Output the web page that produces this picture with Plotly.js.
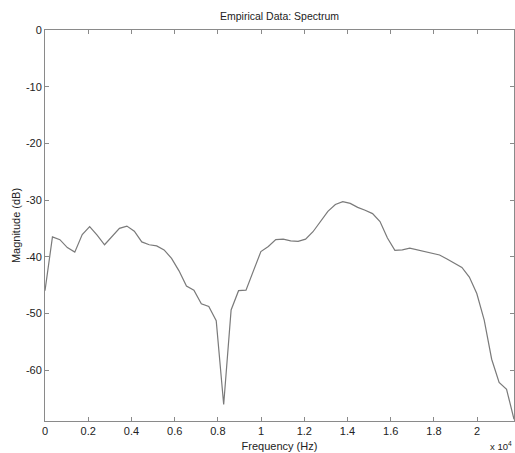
<!DOCTYPE html>
<html>
<head>
<meta charset="utf-8">
<script src="https://cdn.plot.ly/plotly-3.0.1.min.js"></script>
<style>html,body{margin:0;padding:0;background:#fff;}#chart{width:515px;height:453px;}</style>
</head>
<body>
<div id="chart"></div>
<script>
const freqHz = [0,345,689,1034,1378,1723,2067,2412,2756,3101,3445,3790,4134,4479,4823,5168,
  5512,5857,6202,6546,6891,7235,7580,7924,8269,8613,8958,9302,9647,9991,10336,10680,
  11025,11370,11714,12059,12403,12748,13092,13437,13781,14126,14470,14815,15159,15504,15848,16193,
  16537,16882,17227,17571,17916,18260,18605,18949,19294,19638,19983,20327,20672,21016,21361,21705];
const magnitudeDb = [-46.0,-36.5,-37.0,-38.4,-39.2,-36.1,-34.7,-36.2,-37.9,-36.5,-35.0,-34.6,-35.5,-37.4,-37.9,-38.1,
  -38.8,-40.3,-42.5,-45.2,-45.9,-48.3,-48.8,-51.3,-66.1,-49.4,-46.0,-45.9,-42.5,-39.1,-38.2,-37.0,
  -36.9,-37.2,-37.3,-36.9,-35.6,-33.8,-32.0,-30.8,-30.3,-30.6,-31.3,-31.8,-32.4,-33.8,-36.7,-38.9,
  -38.8,-38.5,-38.8,-39.1,-39.3,-39.7,-40.4,-41.2,-41.9,-43.6,-46.5,-51.2,-58.1,-62.2,-63.4,-68.7];
const xTickVals = [0,2000,4000,6000,8000,10000,12000,14000,16000,18000,20000];
const xTickText = ['0','0.2','0.4','0.6','0.8','1','1.2','1.4','1.6','1.8','2'];
const yTickVals = [0,-10,-20,-30,-40,-50,-60];
const yTickText = ['0','-10','-20','-30','-40','-50','-60'];

const font = {family: 'Liberation Sans, Arial, sans-serif', size: 11, color: '#222'};
const axisCommon = {
  showline: true, mirror: 'ticks', linecolor: '#8a8a8a', linewidth: 1,
  ticks: 'inside', ticklen: 4, tickcolor: '#8a8a8a', tickwidth: 1,
  showgrid: false, zeroline: false, tickfont: font
};
Plotly.newPlot('chart', [{
  x: freqHz, y: magnitudeDb, type: 'scatter', mode: 'lines',
  line: {color: '#7a7a7a', width: 1.2}, hoverinfo: 'skip'
}], {
  width: 515, height: 453,
  margin: {l: 45, r: 1, t: 30, b: 32},
  paper_bgcolor: '#fff', plot_bgcolor: '#fff',
  showlegend: false,
  font: font,
  title: {text: 'Empirical Data: Spectrum', font: {family: font.family, size: 10.5, color: '#222'}, x: 0.5, xanchor: 'center', xref: 'paper', y: 0.963, yanchor: 'middle'},
  xaxis: Object.assign({}, axisCommon, {
    range: [0, freqHz[freqHz.length - 1]], tickvals: xTickVals, ticktext: xTickText,
    title: {text: 'Frequency (Hz)', font: font, standoff: 6}
  }),
  yaxis: Object.assign({}, axisCommon, {
    range: [-69, 0], tickvals: yTickVals, ticktext: yTickText,
    title: {text: 'Magnitude (dB)', font: font, standoff: 3}
  }),
  annotations: [{
    text: 'x 10<sup>4</sup>', xref: 'paper', yref: 'paper', x: 1, y: 0, xanchor: 'right', yanchor: 'top',
    yshift: -17, showarrow: false, font: {family: font.family, size: 9.5, color: '#222'}
  }]
}, {staticPlot: true});
</script>
</body>
</html>
